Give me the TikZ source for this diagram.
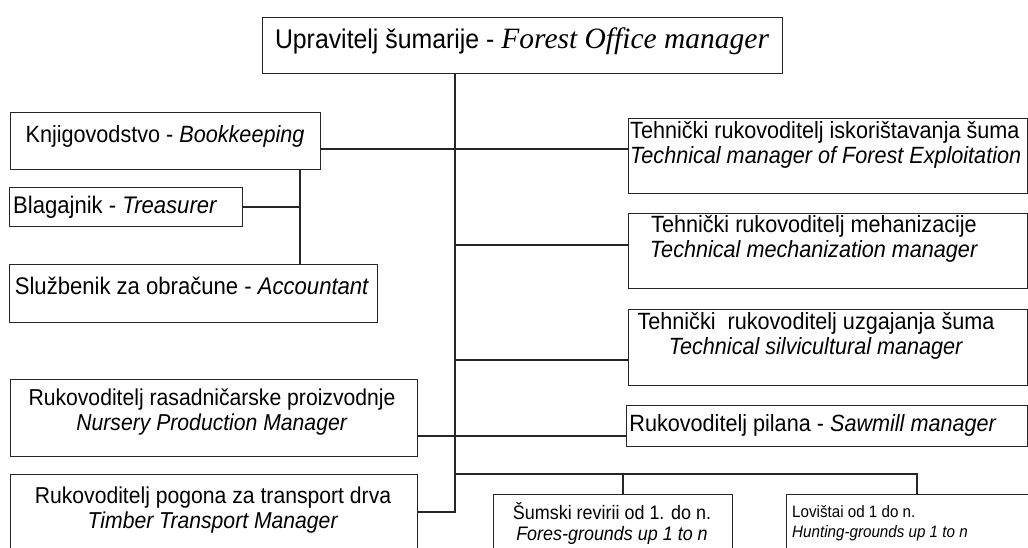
\documentclass[tikz,border=0pt]{standalone}
\usepackage{fontspec}
\setmainfont{Liberation Sans}[FakeStretch=0.92]
\newfontfamily\timesit{Liberation Serif}
\begin{document}
\begin{tikzpicture}[x=1pt,y=-1pt,
  box/.style={draw=black!85, line width=1.1pt, inner sep=0pt, anchor=north west},
  lbl/.style={inner sep=0pt, font=\fontsize{23.5}{25}\selectfont},
  conn/.style={draw=black!85, line width=1.1pt}]
\useasboundingbox (0,0) rectangle (1028,547);
\clip (0,0) rectangle (1028,547);
\fill[white] (0,0) rectangle (1028,547);
% boxes
\node[box, minimum width=520pt, minimum height=56pt] (top) at (262,17) {};
\node[box, minimum width=310pt, minimum height=57pt] (knj) at (10,112) {};
\node[box, minimum width=233pt, minimum height=39pt] (blag) at (9,187) {};
\node[box, minimum width=368pt, minimum height=58pt] (sluz) at (9,264) {};
\node[box, minimum width=407pt, minimum height=77pt] (nurs) at (10,379) {};
\node[box, minimum width=407pt, minimum height=90pt] (trans) at (10,474) {};
\node[box, minimum width=398.5pt, minimum height=75pt] (isk) at (628,118) {};
\node[box, minimum width=398.5pt, minimum height=75pt] (meh) at (628,213) {};
\node[box, minimum width=398.5pt, minimum height=76pt] (uzg) at (628,309) {};
\node[box, minimum width=400.5pt, minimum height=41pt] (pil) at (626,405) {};
\node[box, minimum width=239pt, minimum height=70pt] (sum) at (493,494) {};
\node[box, minimum width=254pt, minimum height=70pt] (lov) at (786,494) {};
% texts
\node[lbl, font=\fontsize{27}{28}\selectfont] (topT) at (522,41) {Upravitelj šumarije - {\timesit\itshape\fontsize{29.5}{30}\selectfont Forest Office manager}};
\node[lbl] (knjT) at (165,136) {Knjigovodstvo - \textit{Bookkeeping}};
\node[lbl, anchor=west, font=\fontsize{24}{25}\selectfont] (blagT) at (13,207) {Blagajnik - \textit{Treasurer}};
\node[lbl, font=\fontsize{24}{25}\selectfont] (sluzT) at (192,286) {Službenik za obračune - \textit{Accountant}};
\node[lbl, align=center, font=\fontsize{23}{24.5}\selectfont] (nursT) at (212,412) {Rukovoditelj rasadničarske proizvodnje\\\textit{Nursery Production Manager}};
\node[lbl, align=center, font=\fontsize{23}{25}\selectfont] (transT) at (213,510) {Rukovoditelj pogona za transport drva\\\textit{Timber Transport Manager}};
\node[lbl, align=left, anchor=west] (iskT) at (630,145) {Tehnički rukovoditelj iskorištavanja šuma\\\textit{Technical manager of Forest Exploitation}};
\node[lbl, align=center] (mehT) at (814,239) {Tehnički rukovoditelj mehanizacije\\\textit{Technical mechanization manager}};
\node[lbl, align=center] (uzgT) at (816,336) {Tehnički\ \ rukovoditelj uzgajanja šuma\\\textit{Technical silvicultural manager}};
\node[lbl] (pilT) at (813,425) {Rukovoditelj pilana - \textit{Sawmill manager}};
\node[lbl, align=center, font=\fontsize{19.5}{21}\selectfont] (sumT) at (612,523) {Šumski revirii od 1. do n.\\\textit{Fores-grounds up 1 to n}};
\node[lbl, align=left, anchor=west, font=\fontsize{16.5}{20.5}\selectfont] (lovT) at (792,523) {Lovištai od 1 do n.\\\textit{Hunting-grounds up 1 to n}};
% connectors
\coordinate (jbot) at (455,512);
\coordinate (y149) at (455,149);
\coordinate (y245) at (455,245);
\coordinate (y360) at (455,360);
\coordinate (y436) at (455,436);
\coordinate (br) at (455,474);
\coordinate (brs) at (623,474);
\coordinate (brl) at (917,474);
\coordinate (sv) at (300,207);
\draw[conn] (top.south -| jbot) -- (jbot) -- (trans.east |- jbot);
\draw[conn] (knj.east |- y149) -- (isk.west |- y149);
\draw[conn] (knj.south -| sv) -- (sluz.north -| sv);
\draw[conn] (blag.east |- sv) -- (sv);
\draw[conn] (y245) -- (meh.west |- y245);
\draw[conn] (y360) -- (uzg.west |- y360);
\draw[conn] (nurs.east |- y436) -- (pil.west |- y436);
\draw[conn] (br) -- (brl) -- (lov.north -| brl);
\draw[conn] (brs) -- (sum.north -| brs);
\end{tikzpicture}
\end{document}
